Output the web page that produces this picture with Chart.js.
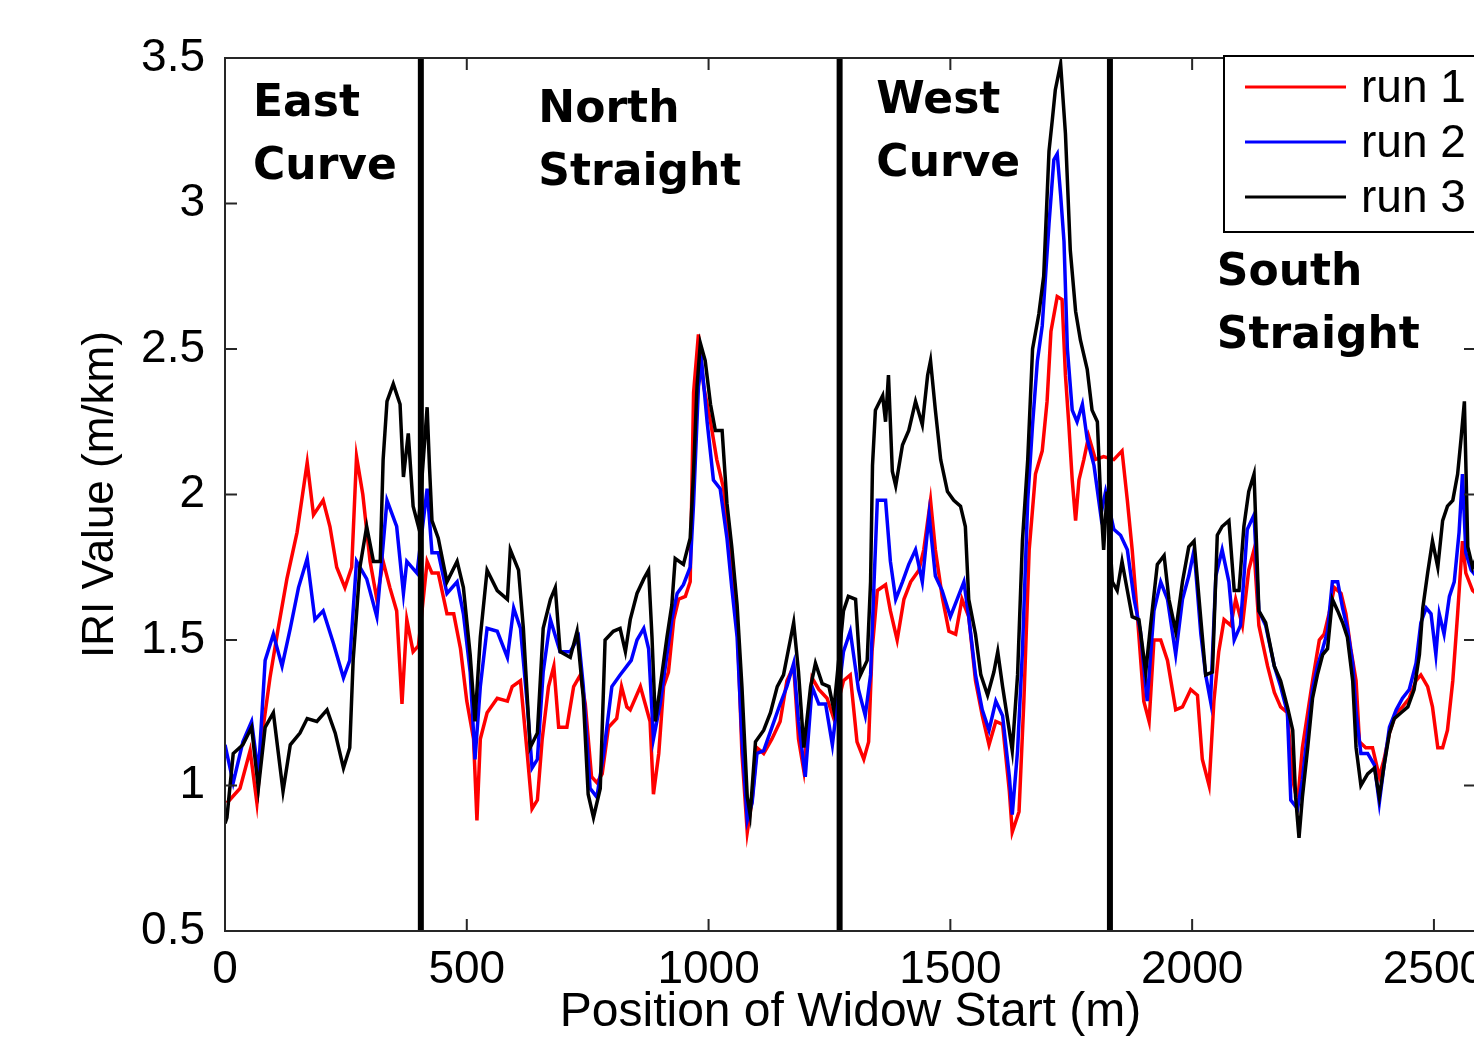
<!DOCTYPE html>
<html>
<head>
<meta charset="utf-8">
<title>IRI runs</title>
<script src="https://cdn.jsdelivr.net/npm/chart.js@4.4.1/dist/chart.umd.min.js"></script>
<style>
  html, body { margin: 0; padding: 0; background: #fff; overflow: hidden; }
  #wrap { position: relative; width: 1500px; height: 1037px; }
</style>
</head>
<body>
<div id="wrap"><canvas id="iri-chart"></canvas></div>
<script>
const run1Pos = [4, 31, 52, 66, 79, 93, 110, 128, 149, 170, 183, 203, 217, 231, 248, 262, 272, 285, 300, 314, 327, 341, 355, 366, 376, 389, 400,
  418, 428, 441, 459, 473, 487, 500, 514, 521, 528, 542, 563, 584, 594, 611, 625, 635, 646, 656, 669, 680, 690, 707, 721, 735, 745, 758, 769, 780, 793, 810, 820, 831,
  838, 859, 869, 879, 886, 897, 907, 917, 928, 938, 952, 962, 969, 979, 990, 1004, 1017, 1031, 1045, 1059, 1069, 1080, 1090, 1100, 1114, 1131, 1148, 1162, 1176, 1186, 1197, 1214, 1228, 1245, 1259,
  1279, 1293, 1307, 1321, 1331, 1338, 1349, 1366, 1376, 1390, 1404, 1418, 1435, 1445, 1459, 1469, 1483, 1497, 1511, 1524, 1538, 1552, 1566, 1580, 1594, 1608, 1622, 1628, 1642, 1652, 1663, 1676, 1690, 1700,
  1708, 1721, 1731, 1738, 1745, 1752, 1759, 1766, 1776, 1786, 1800, 1817, 1838, 1855, 1866, 1876, 1886, 1900, 1911, 1921, 1935, 1949, 1966, 1980, 1997, 2011, 2021, 2035, 2045, 2055, 2066, 2080, 2090, 2104, 2117, 2128, 2138,
  2156, 2170, 2183, 2197, 2208, 2218, 2228, 2239, 2249, 2263, 2273, 2283, 2294, 2308, 2318, 2328, 2339, 2346, 2359, 2373, 2387, 2397, 2408, 2422, 2435, 2449, 2463, 2473, 2487, 2497, 2508, 2518, 2528, 2539, 2549, 2559, 2566, 2580, 2587];
const run1Iri = [0.94, 0.99, 1.12, 0.94, 1.20, 1.37, 1.54, 1.71, 1.87, 2.11, 1.93, 1.98, 1.89, 1.75, 1.68, 1.75, 2.13, 2.00, 1.77, 1.64, 1.77, 1.68, 1.60, 1.28, 1.57, 1.46, 1.48,
  1.77, 1.73, 1.73, 1.59, 1.59, 1.47, 1.29, 1.16, 0.88, 1.16, 1.25, 1.30, 1.29, 1.34, 1.36, 1.11, 0.92, 0.95, 1.16, 1.34, 1.41, 1.20, 1.20, 1.34, 1.38, 1.28, 1.03, 1.01, 1.04, 1.20, 1.23, 1.34, 1.27,
  1.26, 1.34, 1.28, 1.22, 0.97, 1.11, 1.34, 1.39, 1.57, 1.64, 1.65, 1.70, 2.35, 2.55, 2.37, 2.25, 2.12, 2.02, 1.80, 1.57, 1.11, 0.84, 0.95, 1.13, 1.11, 1.16, 1.22, 1.36, 1.41, 1.16, 1.05, 1.37, 1.33, 1.30, 1.23,
  1.36, 1.38, 1.15, 1.09, 1.15, 1.46, 1.67, 1.69, 1.60, 1.50, 1.64, 1.70, 1.74, 1.81, 1.98, 1.81, 1.65, 1.53, 1.52, 1.64, 1.58, 1.36, 1.24, 1.14, 1.22, 1.21, 0.98, 0.84, 0.91, 1.29, 1.81, 2.07, 2.15, 2.32,
  2.56, 2.68, 2.67, 2.41, 2.24, 2.05, 1.91, 2.05, 2.12, 2.20, 2.12, 2.13, 2.12, 2.15, 1.98, 1.81, 1.60, 1.29, 1.22, 1.50, 1.50, 1.43, 1.26, 1.27, 1.33, 1.31, 1.09, 1.00, 1.29, 1.46, 1.57, 1.55, 1.64, 1.55, 1.74, 1.81, 1.55,
  1.41, 1.32, 1.27, 1.25, 1.02, 0.94, 1.13, 1.25, 1.36, 1.50, 1.52, 1.59, 1.68, 1.66, 1.59, 1.47, 1.36, 1.15, 1.13, 1.13, 1.03, 1.09, 1.18, 1.25, 1.27, 1.30, 1.36, 1.38, 1.34, 1.27, 1.13, 1.13, 1.19, 1.36, 1.59, 1.84, 1.73, 1.67, 1.66];

const run2Pos = [0, 17, 37, 55, 69, 83, 100, 118, 135, 152, 170, 186, 203, 224, 245, 258, 272, 293, 314, 335, 355, 369, 376, 397,
  418, 428, 441, 459, 480, 493, 507, 517, 528, 542, 563, 584, 597, 611, 625, 635, 646, 658, 673, 693, 714, 731, 741, 755, 769, 783, 800, 817, 831,
  840, 852, 866, 876, 886, 900, 914, 924, 935, 948, 962, 969, 979, 986, 997, 1010, 1024, 1038, 1048, 1059, 1069, 1080, 1090, 1100, 1114, 1131, 1148, 1162, 1176, 1186, 1200, 1214, 1228, 1242, 1256,
  1279, 1293, 1310, 1324, 1335, 1342, 1349, 1366, 1376, 1387, 1401, 1414, 1428, 1442, 1456, 1469, 1483, 1500, 1514, 1528, 1538, 1552, 1566, 1580, 1594, 1608, 1622, 1628, 1639, 1649, 1660, 1670, 1680, 1690, 1704,
  1714, 1721, 1728, 1735, 1742, 1752, 1762, 1773, 1783, 1797, 1811, 1821, 1838, 1852, 1866, 1880, 1893, 1907, 1921, 1935, 1949, 1966, 1980, 1993, 2004, 2018, 2028, 2038, 2049, 2062, 2076, 2087, 2100, 2114, 2128, 2138, 2152,
  2170, 2183, 2197, 2204, 2218, 2228, 2239, 2249, 2259, 2270, 2280, 2290, 2301, 2311, 2321, 2332, 2339, 2349, 2363, 2377, 2387, 2397, 2408, 2422, 2435, 2449, 2463, 2473, 2484, 2494, 2504, 2511, 2521, 2532, 2542, 2552, 2559, 2566, 2577, 2587];
const run2Iri = [1.14, 1.01, 1.15, 1.22, 1.04, 1.43, 1.52, 1.41, 1.54, 1.68, 1.78, 1.57, 1.60, 1.49, 1.37, 1.43, 1.77, 1.71, 1.58, 1.98, 1.89, 1.66, 1.77, 1.73,
  2.02, 1.80, 1.80, 1.66, 1.70, 1.59, 1.39, 1.09, 1.34, 1.54, 1.53, 1.44, 1.61, 1.54, 1.28, 1.06, 1.09, 1.39, 1.57, 1.46, 1.46, 1.51, 1.34, 0.99, 0.96, 1.11, 1.34, 1.38, 1.41,
  1.43, 1.50, 1.54, 1.47, 1.16, 1.28, 1.45, 1.57, 1.66, 1.69, 1.75, 1.97, 2.37, 2.45, 2.25, 2.05, 2.02, 1.85, 1.68, 1.51, 1.16, 0.88, 0.94, 1.11, 1.12, 1.20, 1.28, 1.34, 1.42, 1.22, 1.03, 1.34, 1.28, 1.28, 1.14,
  1.46, 1.53, 1.33, 1.24, 1.38, 1.69, 1.98, 1.98, 1.77, 1.64, 1.70, 1.76, 1.81, 1.70, 1.93, 1.72, 1.67, 1.58, 1.64, 1.70, 1.58, 1.38, 1.26, 1.19, 1.29, 1.24, 1.03, 0.90, 1.12, 1.46, 1.98, 2.24, 2.46, 2.58, 2.93,
  3.15, 3.17, 3.03, 2.87, 2.50, 2.29, 2.25, 2.31, 2.19, 2.10, 1.93, 2.01, 1.88, 1.86, 1.81, 1.64, 1.53, 1.29, 1.60, 1.70, 1.64, 1.45, 1.64, 1.72, 1.81, 1.52, 1.38, 1.29, 1.72, 1.81, 1.70, 1.50, 1.55, 1.88, 1.93, 1.60, 1.55,
  1.41, 1.34, 1.25, 0.95, 0.92, 1.02, 1.19, 1.33, 1.41, 1.47, 1.53, 1.70, 1.70, 1.61, 1.54, 1.42, 1.25, 1.11, 1.11, 1.07, 0.94, 1.07, 1.20, 1.26, 1.30, 1.33, 1.42, 1.56, 1.61, 1.59, 1.45, 1.59, 1.52, 1.65, 1.70, 1.87, 2.07, 1.80, 1.74, 1.72];

const run3Pos = [0, 4, 17, 37, 55, 69, 83, 100, 120, 135, 155, 170, 190, 211, 228, 245, 258, 265, 279, 293, 307, 321, 327, 335, 348, 362, 369, 379, 389, 400,
  418, 423, 428, 441, 459, 480, 493, 507, 517, 528, 542, 563, 584, 590, 607, 617, 631, 646, 658, 673, 683, 693, 714, 728, 741, 751, 762, 776, 786, 803, 817, 828,
  838, 852, 866, 876, 883, 890, 900, 914, 924, 931, 948, 962, 969, 976, 983, 993, 1004, 1014, 1028, 1038, 1048, 1059, 1069, 1080, 1086, 1097, 1114, 1128, 1142, 1155, 1169, 1176, 1186, 1197, 1211, 1221, 1235, 1249, 1259,
  1279, 1289, 1304, 1314, 1328, 1335, 1339, 1345, 1360, 1366, 1372, 1380, 1387, 1401, 1414, 1428, 1442, 1453, 1459, 1469, 1480, 1494, 1507, 1521, 1531, 1538, 1552, 1563, 1577, 1590, 1598, 1608, 1620, 1628, 1639, 1649, 1660, 1670, 1683, 1693, 1704,
  1711, 1717, 1728, 1738, 1748, 1759, 1769, 1783, 1793, 1804, 1811, 1817, 1824, 1835, 1845, 1855, 1866, 1876, 1890, 1904, 1914, 1928, 1942, 1952, 1966, 1980, 1993, 2004, 2018, 2028, 2042, 2052, 2062, 2076, 2087, 2097, 2107, 2117, 2128, 2138,
  2152, 2170, 2183, 2197, 2208, 2214, 2221, 2228, 2239, 2249, 2259, 2270, 2280, 2290, 2301, 2311, 2321, 2332, 2339, 2349, 2363, 2377, 2387, 2397, 2408, 2418, 2432, 2446, 2459, 2470, 2477, 2487, 2497, 2508, 2518, 2528, 2539, 2549, 2556, 2563, 2570, 2580, 2587];
const run3Iri = [0.87, 0.89, 1.11, 1.14, 1.20, 0.99, 1.20, 1.25, 0.98, 1.14, 1.18, 1.23, 1.22, 1.26, 1.18, 1.06, 1.13, 1.43, 1.75, 1.89, 1.77, 1.77, 2.12, 2.32, 2.38, 2.31, 2.06, 2.21, 1.96, 1.89,
  2.30, 2.09, 1.91, 1.85, 1.70, 1.77, 1.68, 1.45, 1.22, 1.51, 1.74, 1.67, 1.64, 1.81, 1.74, 1.54, 1.13, 1.18, 1.54, 1.64, 1.68, 1.46, 1.44, 1.53, 1.30, 0.97, 0.89, 0.99, 1.50, 1.53, 1.54, 1.46,
  1.57, 1.66, 1.71, 1.74, 1.51, 1.22, 1.34, 1.51, 1.62, 1.78, 1.76, 1.85, 2.08, 2.37, 2.52, 2.46, 2.31, 2.22, 2.22, 1.97, 1.82, 1.62, 1.34, 0.96, 0.90, 1.15, 1.19, 1.25, 1.34, 1.38, 1.50, 1.56, 1.39, 1.13, 1.34, 1.42, 1.35, 1.34, 1.26,
  1.60, 1.65, 1.64, 1.38, 1.43, 1.70, 2.10, 2.29, 2.34, 2.25, 2.41, 2.08, 2.03, 2.17, 2.22, 2.32, 2.24, 2.41, 2.46, 2.29, 2.12, 2.01, 1.98, 1.96, 1.89, 1.64, 1.52, 1.38, 1.31, 1.39, 1.46, 1.34, 1.21, 1.12, 1.38, 1.84, 2.12, 2.50, 2.62, 2.75, 3.18,
  3.29, 3.39, 3.48, 3.24, 2.84, 2.63, 2.53, 2.43, 2.29, 2.25, 1.98, 1.81, 2.01, 1.70, 1.67, 1.77, 1.67, 1.58, 1.57, 1.39, 1.55, 1.76, 1.79, 1.64, 1.53, 1.70, 1.82, 1.84, 1.57, 1.38, 1.39, 1.86, 1.89, 1.91, 1.67, 1.67, 1.89, 2.01, 2.07, 1.60,
  1.56, 1.41, 1.36, 1.27, 1.19, 0.96, 0.82, 0.96, 1.13, 1.30, 1.38, 1.45, 1.47, 1.64, 1.60, 1.56, 1.51, 1.36, 1.13, 1.00, 1.04, 1.06, 0.96, 1.07, 1.18, 1.23, 1.25, 1.27, 1.33, 1.45, 1.61, 1.73, 1.84, 1.75, 1.91, 1.96, 1.98, 2.07, 2.19, 2.32, 1.82, 1.75, 1.78];

const runLabels = ['run 1', 'run 2', 'run 3'];
const runColors = ['#ff0000', '#0000ff', '#000000'];

// section boundaries along the track (m) and the names written in each section
const sectionBounds = [405, 1271, 1830];
const sectionNames = [['East', 'Curve'], ['North', 'Straight'], ['West', 'Curve'], ['South', 'Straight']];

const xTicks = [0, 500, 1000, 1500, 2000, 2500];
const yTicks = [0.5, 1, 1.5, 2, 2.5, 3, 3.5];

const toPoints = (pos, iri) => pos.map((p, i) => ({ x: p, y: iri[i] }));

const runDatasets = [[run1Pos, run1Iri], [run2Pos, run2Iri], [run3Pos, run3Iri]].map(([pos, iri], i) => ({
  label: runLabels[i],
  data: toPoints(pos, iri),
  borderColor: runColors[i],
  borderWidth: 3.5,
  pointRadius: 0,
  tension: 0,
  order: 3 - i, // run 3 ends up on top like in matlab
}));

const boundaryDatasets = sectionBounds.map(b => ({
  label: 'boundary',
  data: [{ x: b, y: yTicks[0] }, { x: b, y: yTicks[yTicks.length - 1] }],
  borderColor: '#000',
  borderWidth: 6,
  pointRadius: 0,
  order: 0,
}));

// frame with inward ticks, section names and the legend box, matlab style
const matlabAxes = {
  id: 'matlabAxes',
  afterDraw(chart, args, opts) {
    const { ctx, chartArea: a, scales: { x, y } } = chart;
    ctx.save();

    // section names
    ctx.fillStyle = '#000';
    ctx.font = 'bold 44px "DejaVu Sans", Verdana, sans-serif';
    ctx.textAlign = 'left';
    ctx.textBaseline = 'alphabetic';
    sectionNames.forEach((lines, i) => {
      const anchor = opts.labelAnchors[i];
      const px = x.getPixelForValue(anchor.x);
      const py = y.getPixelForValue(anchor.y);
      lines.forEach((line, j) => ctx.fillText(line, px, py + j * 63));
    });

    // box and ticks
    ctx.strokeStyle = '#262626';
    ctx.lineWidth = 2;
    ctx.strokeRect(a.left, a.top, a.right - a.left, a.bottom - a.top);
    const len = 12;
    ctx.beginPath();
    x.ticks.forEach(t => {
      const px = x.getPixelForValue(t.value);
      ctx.moveTo(px, a.bottom); ctx.lineTo(px, a.bottom - len);
      ctx.moveTo(px, a.top); ctx.lineTo(px, a.top + len);
    });
    y.ticks.forEach(t => {
      const py = y.getPixelForValue(t.value);
      ctx.moveTo(a.left, py); ctx.lineTo(a.left + len, py);
      ctx.moveTo(a.right, py); ctx.lineTo(a.right - len, py);
    });
    ctx.stroke();

    // legend in the top right corner
    const lx = a.right - 252;
    const ly = a.top - 2;
    ctx.fillStyle = '#fff';
    ctx.fillRect(lx, ly, 280, 176);
    ctx.strokeStyle = '#000';
    ctx.lineWidth = 2;
    ctx.strokeRect(lx, ly, 280, 176);
    ctx.font = '46px "Liberation Sans", Arial, sans-serif';
    ctx.textBaseline = 'middle';
    runDatasets.forEach((ds, i) => {
      const ey = ly + 31 + i * 55;
      ctx.strokeStyle = ds.borderColor;
      ctx.lineWidth = 3;
      ctx.beginPath();
      ctx.moveTo(lx + 21, ey);
      ctx.lineTo(lx + 122, ey);
      ctx.stroke();
      ctx.fillStyle = '#000';
      ctx.fillText(ds.label, lx + 137, ey + 2);
    });
    ctx.restore();
  }
};

const tickFont = { family: '"Liberation Sans", Arial, sans-serif', size: 46 };

const config = {
  type: 'line',
  data: { datasets: [...runDatasets, ...boundaryDatasets] },
  options: {
    responsive: true,
    maintainAspectRatio: false,
    animation: false,
    layout: { padding: { top: 58, right: 24, left: 0, bottom: 0 } },
    plugins: {
      legend: { display: false },
      tooltip: { enabled: false },
      matlabAxes: {
        labelAnchors: [{ x: 58, y: 3.30 }, { x: 648, y: 3.28 }, { x: 1347, y: 3.31 }, { x: 2051, y: 2.72 }],
      },
    },
    scales: {
      x: {
        type: 'linear',
        min: 0,
        max: 2587,
        grid: { display: false },
        border: { display: false },
        afterBuildTicks: scale => { scale.ticks = xTicks.map(v => ({ value: v })); },
        afterFit: scale => { scale.height = 106; },
        ticks: { font: tickFont, color: '#000', padding: 4, maxRotation: 0, callback: v => String(v) },
        title: {
          display: true,
          text: 'Position of Widow Start (m)',
          color: '#000',
          font: { family: '"Liberation Sans", Arial, sans-serif', size: 48, lineHeight: 1 },
          padding: { top: 0, bottom: 0 },
        },
      },
      y: {
        min: 0.5,
        max: 3.5,
        grid: { display: false },
        border: { display: false },
        afterBuildTicks: scale => { scale.ticks = yTicks.map(v => ({ value: v })); },
        afterFit: scale => { scale.width = 225; },
        ticks: { font: tickFont, color: '#000', padding: 12, callback: v => String(v) },
        title: {
          display: true,
          text: 'IRI Value (m/km)',
          color: '#000',
          font: { family: '"Liberation Sans", Arial, sans-serif', size: 44, lineHeight: 1 },
          padding: { top: 79, bottom: 0 },
        },
      },
    },
  },
  plugins: [matlabAxes],
};

new Chart(document.getElementById('iri-chart').getContext('2d'), config);
</script>
</body>
</html>
